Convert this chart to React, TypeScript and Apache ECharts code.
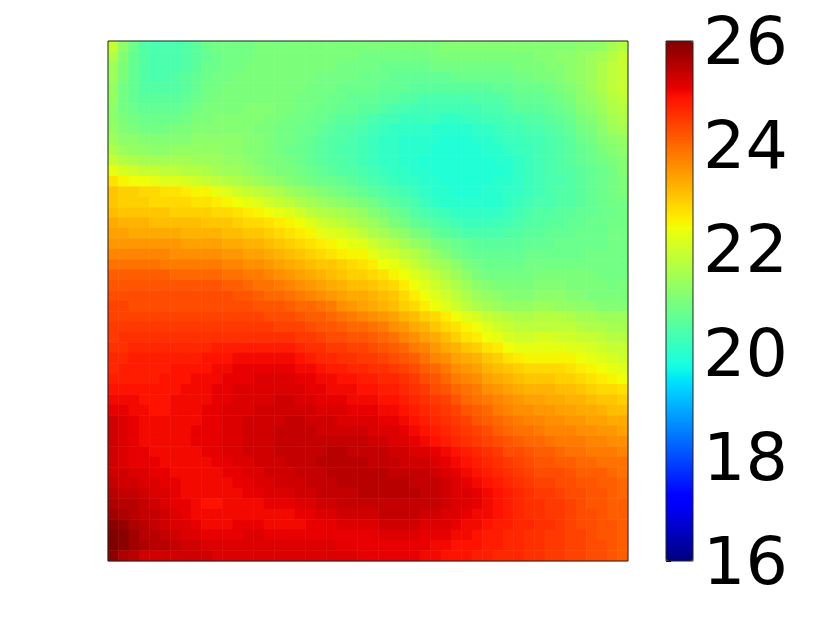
import React, { useEffect, useRef } from "react";
import * as echarts from "echarts";

// Values are in tenths of a colour-scale unit, rows top to bottom, columns left to right.
const cellRows: number[][] = [
[219,212,208,205,204,204,204,205,206,208,209,209,209,209,210,210,210,210,210,210,210,210,210,210,210,210,210,210,210,210,210,210,211,211,211,211,211,211,211,211,211,211,211,211,211,212,212,213,215,217],
[216,211,207,205,204,204,204,205,206,207,208,209,209,209,210,210,210,210,210,210,210,210,210,210,209,209,209,209,209,209,209,210,210,210,210,210,210,210,210,210,210,211,211,212,212,213,214,215,217,219],
[214,210,207,205,204,204,204,205,206,208,208,209,209,210,210,210,210,210,210,210,210,210,209,209,209,209,208,208,208,208,208,209,209,209,209,209,209,209,209,210,210,210,211,211,212,213,214,216,218,219],
[214,210,207,205,204,204,205,206,207,208,209,209,210,210,210,210,210,210,210,210,209,209,209,209,208,208,208,207,207,207,207,207,207,208,208,208,208,208,208,209,209,210,210,211,212,213,214,216,218,219],
[213,209,207,205,205,205,205,206,207,209,209,210,210,210,210,210,210,210,210,209,209,209,208,208,208,208,207,207,207,206,206,206,206,206,206,206,206,207,207,208,208,208,209,210,211,212,214,216,218,219],
[213,209,207,206,206,206,206,207,208,209,210,210,210,210,210,210,210,210,209,209,209,208,208,207,207,207,206,206,205,205,204,204,204,204,204,205,205,205,206,207,207,207,208,209,210,212,213,215,217,218],
[212,209,208,207,207,207,207,208,209,210,210,210,210,211,211,211,210,210,209,209,208,208,207,207,206,206,205,204,204,203,203,203,203,203,203,203,204,204,205,206,206,206,207,208,209,211,212,214,216,217],
[212,210,209,208,208,208,208,209,210,210,211,211,211,211,211,210,210,209,209,208,208,207,206,206,205,204,203,203,202,202,202,202,201,201,202,202,203,203,204,204,205,205,206,207,208,210,211,213,215,216],
[213,211,210,209,209,209,210,210,211,211,211,211,211,211,210,210,209,209,208,208,207,206,205,205,204,203,202,201,201,201,201,200,200,200,200,201,201,202,203,203,204,204,205,206,207,209,210,212,214,215],
[214,212,212,211,211,211,211,211,212,212,212,212,212,211,211,210,209,209,208,207,206,205,205,204,203,202,201,201,200,200,200,200,199,199,199,200,200,201,202,202,203,203,204,205,206,208,209,211,212,213],
[216,214,213,213,212,212,213,213,213,213,213,212,212,211,211,210,209,208,208,207,206,205,204,204,203,202,201,201,200,200,200,199,199,199,199,199,200,200,201,202,202,203,204,205,206,207,208,210,211,212],
[219,217,216,215,215,215,215,215,214,214,214,213,213,212,211,210,210,209,208,207,206,205,205,204,203,202,201,201,200,200,199,199,199,199,199,199,199,200,200,201,202,203,204,205,206,207,208,209,210,211],
[223,221,220,219,219,218,218,217,217,216,215,214,214,213,212,211,210,210,209,208,207,206,205,205,204,203,202,201,201,200,200,199,199,199,199,199,199,199,200,201,202,203,204,205,205,206,207,208,209,211],
[227,225,224,224,223,222,222,221,220,219,218,217,216,215,214,213,212,211,210,209,208,208,207,206,205,204,203,202,201,201,200,200,199,199,199,199,199,200,200,201,202,203,204,204,205,206,207,208,209,210],
[230,229,229,228,228,227,227,226,225,225,223,222,220,219,218,217,216,214,213,212,211,210,209,208,207,206,205,204,203,202,201,200,200,199,199,199,200,200,201,201,202,203,204,205,205,206,207,208,209,210],
[230,229,229,229,228,228,228,228,227,227,226,225,224,223,222,220,219,218,216,215,214,213,212,211,210,209,207,206,205,204,202,201,200,200,200,200,200,200,201,202,203,204,204,205,205,206,207,208,209,209],
[231,230,230,230,230,230,229,229,229,229,228,228,227,226,225,224,223,222,220,218,217,216,215,214,213,211,210,208,207,205,204,203,202,201,201,201,201,201,202,203,204,205,205,206,206,207,207,208,208,209],
[233,232,232,232,231,231,231,231,231,230,230,230,229,228,228,227,226,225,224,222,220,219,218,216,215,214,212,210,209,207,206,205,204,203,202,202,202,203,203,204,205,205,206,206,207,207,208,208,209,209],
[234,234,233,233,233,233,233,232,232,232,232,231,231,230,230,229,228,227,226,225,223,222,221,220,218,216,215,213,212,210,209,207,206,205,204,204,204,204,205,205,206,206,207,207,207,208,208,208,209,209],
[235,235,235,235,235,235,235,234,234,234,234,233,233,232,232,231,230,229,228,227,226,225,224,223,222,220,218,217,215,213,212,210,209,208,207,206,206,206,206,206,207,207,207,208,208,208,208,208,209,209],
[237,237,237,237,237,237,236,236,236,236,236,235,235,234,234,233,232,231,230,229,228,227,226,225,225,223,221,220,218,217,215,213,211,209,208,207,207,207,207,207,208,208,208,208,208,208,209,209,209,209],
[239,239,239,239,239,238,238,238,238,238,238,237,237,236,236,235,234,233,232,231,230,230,229,228,227,226,224,223,221,219,217,215,214,212,210,209,208,208,208,208,209,209,209,209,209,209,209,209,209,209],
[241,241,241,241,241,241,240,240,240,240,240,239,239,238,238,237,236,235,234,233,232,231,230,229,229,228,227,225,224,222,220,218,216,214,212,210,209,209,209,209,209,210,210,210,210,210,210,209,209,209],
[242,242,242,242,242,242,242,242,242,242,242,241,241,240,239,239,238,237,236,235,234,233,232,231,231,230,229,228,226,224,222,220,218,216,214,212,211,210,210,210,210,211,211,211,210,210,210,210,209,210],
[243,243,243,243,243,243,243,243,243,243,243,243,242,242,241,240,240,239,238,237,236,235,234,233,233,232,231,230,228,226,224,222,220,218,216,214,213,212,211,211,211,212,212,212,211,211,210,210,210,210],
[244,244,243,243,243,243,243,243,243,243,243,243,243,243,242,242,242,241,240,240,239,238,236,235,234,233,232,231,229,228,226,224,222,220,218,216,215,214,213,213,213,214,214,213,213,212,212,211,211,211],
[244,244,244,244,244,244,244,244,244,244,244,244,244,244,244,243,243,243,242,241,241,240,239,238,237,236,235,234,232,231,229,228,226,224,222,221,219,218,217,216,216,217,217,217,216,215,215,214,214,214],
[245,245,245,245,245,245,245,245,245,245,245,245,245,245,245,245,244,244,244,243,242,242,241,240,240,239,238,236,235,233,232,230,228,227,225,224,222,220,219,218,218,218,218,218,218,217,216,216,215,215],
[245,246,246,246,246,246,246,246,246,246,246,246,246,246,246,246,246,246,245,245,244,243,243,242,242,241,240,239,237,236,234,233,231,229,227,226,224,223,221,220,220,221,221,220,220,219,219,218,217,217],
[246,246,247,247,247,247,247,247,247,247,248,248,248,248,248,248,248,248,247,246,246,245,245,244,244,243,242,241,240,238,237,235,233,232,230,229,227,226,224,223,223,223,223,223,222,222,221,220,219,219],
[247,247,248,248,248,248,248,248,248,249,249,249,250,250,250,250,250,250,249,248,247,247,246,246,245,245,244,243,242,241,239,237,236,234,233,232,230,229,227,226,225,225,225,225,225,224,223,222,221,220],
[247,248,248,248,248,248,249,249,249,249,250,250,251,251,251,251,251,251,250,250,249,248,248,247,247,246,246,245,244,243,241,240,238,236,235,234,232,231,230,229,228,228,228,228,227,226,225,224,223,222],
[248,248,248,248,248,249,249,249,250,250,250,251,251,251,252,252,252,252,251,251,250,250,249,249,248,248,247,247,246,245,243,242,240,238,237,236,234,233,232,231,230,230,230,229,229,228,227,226,225,224],
[249,249,249,249,249,249,249,250,250,250,251,251,252,252,252,252,252,252,252,251,251,250,250,250,249,249,248,248,247,246,245,243,242,240,239,238,236,235,234,233,232,232,232,231,231,230,229,228,228,227],
[250,250,250,249,249,249,250,250,250,250,251,251,252,252,252,252,253,253,252,252,251,251,251,250,250,250,249,249,248,247,246,245,244,242,240,239,238,237,236,235,234,234,233,233,232,232,231,230,230,229],
[251,251,250,250,249,249,250,250,250,251,251,252,252,252,253,253,253,253,253,253,252,252,252,251,251,251,250,250,249,248,247,246,245,244,242,241,240,238,237,236,236,235,235,234,234,233,233,232,231,231],
[253,252,251,250,250,250,250,250,250,251,251,252,252,253,253,253,253,254,254,253,253,253,252,252,252,252,251,251,250,249,248,247,246,245,244,242,241,240,239,238,237,237,236,236,235,235,234,234,233,233],
[253,252,251,250,250,250,250,250,251,251,251,252,252,253,253,253,254,254,254,254,253,253,253,253,253,252,252,252,251,250,249,248,247,246,245,244,243,241,240,239,239,238,237,237,237,236,236,235,235,234],
[253,252,251,250,250,250,250,250,251,251,251,252,252,253,253,253,254,254,254,254,254,254,254,254,254,253,253,252,252,251,250,249,248,247,246,245,244,243,242,241,240,240,239,238,238,238,237,237,236,236],
[253,252,251,251,250,250,250,250,250,251,251,252,252,253,253,253,254,254,254,254,254,255,255,254,254,254,254,253,253,252,252,251,250,249,248,247,246,245,243,243,242,241,241,240,239,239,238,238,238,237],
[253,252,251,251,251,250,250,250,250,250,251,251,252,252,253,253,253,254,254,254,255,255,255,255,255,254,254,254,253,253,253,252,251,250,249,248,247,246,245,244,243,242,242,241,241,240,240,239,239,239],
[253,253,252,252,251,251,250,250,250,250,250,251,251,252,252,253,253,253,254,254,254,255,255,255,255,255,255,254,254,254,254,253,252,251,250,249,248,247,246,245,244,243,243,243,242,241,241,241,240,239],
[254,253,253,252,252,251,251,250,250,250,250,250,251,251,252,252,253,253,253,254,254,254,255,255,255,255,255,255,255,254,254,254,253,252,251,250,249,248,247,246,245,244,244,243,243,242,242,241,241,240],
[255,254,254,253,252,252,251,250,250,250,250,250,250,251,251,252,252,252,253,253,254,254,254,254,255,255,255,255,255,255,254,254,253,252,252,251,250,249,248,247,246,245,245,244,243,243,242,242,241,240],
[256,255,255,254,253,252,251,251,250,249,249,250,250,250,250,251,251,251,252,252,253,253,254,254,254,254,254,254,254,254,254,254,253,252,252,251,250,249,248,247,246,246,245,245,244,243,242,242,241,241],
[257,256,255,254,254,253,252,251,250,250,250,250,250,250,250,250,250,250,251,251,252,252,253,253,253,253,254,254,254,254,253,253,252,252,251,250,250,249,248,247,246,246,245,245,244,243,243,242,241,241],
[259,258,256,255,254,253,252,252,251,250,250,250,251,251,251,250,250,250,250,251,251,251,252,252,252,252,253,253,253,253,252,252,252,251,250,250,249,248,248,247,247,246,246,245,244,243,243,242,242,241],
[260,259,257,255,255,254,253,252,252,251,251,251,251,252,252,251,251,251,251,251,251,251,251,251,251,251,252,252,252,252,251,251,251,250,250,249,248,248,247,247,246,246,245,245,244,244,243,242,242,241],
[260,259,257,256,255,255,254,253,253,252,252,252,252,252,252,252,252,252,252,252,252,252,251,251,251,251,251,251,251,251,251,250,250,249,249,249,248,248,247,247,246,246,245,245,244,244,243,243,242,241],
[259,256,255,253,253,253,253,253,253,253,252,252,252,252,252,252,252,252,252,252,252,252,252,252,251,251,251,251,251,251,250,250,249,249,249,248,248,247,247,247,246,246,245,245,244,244,243,243,242,241],
];

const scaleMin = 16;
const scaleMax = 26;
const scaleStep = 2;

const rowLabels = cellRows.map((_, i) => String(i));
const colLabels = cellRows[0].map((_, i) => String(i));

function seg(t: number, pts: [number, number][]) {
  for (let i = 1; i < pts.length; i++) {
    if (t <= pts[i][0]) {
      const [a, va] = pts[i - 1];
      const [b, vb] = pts[i];
      return va + ((vb - va) * (t - a)) / (b - a);
    }
  }
  return pts[pts.length - 1][1];
}
const jet: string[] = [];
for (let i = 0; i <= 200; i++) {
  const t = i / 200;
  const r = seg(t, [[0, 0], [0.35, 0], [0.66, 1], [0.89, 1], [1, 0.5]]);
  const g = seg(t, [[0, 0], [0.125, 0], [0.375, 1], [0.64, 1], [0.91, 0], [1, 0]]);
  const b = seg(t, [[0, 0.5], [0.11, 1], [0.34, 1], [0.65, 0], [1, 0]]);
  jet.push(`rgb(${Math.round(r * 255)},${Math.round(g * 255)},${Math.round(b * 255)})`);
}

export default function App() {
  const ref = useRef<HTMLDivElement>(null);
  useEffect(() => {
    document.body.style.margin = "0";
    const chart = echarts.init(ref.current!, undefined, { renderer: "svg" });
    const cells: [number, number, number][] = [];
    cellRows.forEach((row, y) => row.forEach((v, x) => cells.push([x, y, v / 10])));
    chart.setOption({
      animation: false,
      backgroundColor: "#fff",
      tooltip: { show: false },
      grid: [
        { left: 108, top: 41, width: 520, height: 520 },
        { left: 666, top: 41, width: 27, height: 520 },
      ],
      xAxis: [
        { type: "category", gridIndex: 0, data: colLabels, show: false },
        { type: "value", gridIndex: 1, show: false, min: 0, max: 1 },
      ],
      yAxis: [
        { type: "category", gridIndex: 0, data: rowLabels, inverse: true, show: false },
        {
          type: "value",
          gridIndex: 1,
          position: "right",
          min: scaleMin,
          max: scaleMax,
          interval: scaleStep,
          splitLine: { show: false },
          axisLine: { show: false },
          axisTick: { show: true, length: 5, lineStyle: { color: "#000", width: 1 } },
          axisLabel: {
            show: true,
            color: "#000",
            fontSize: 66.67,
            fontFamily: "DejaVu Sans",
            margin: 10,
          },
        },
      ],
      visualMap: {
        type: "continuous",
        seriesIndex: 0,
        min: scaleMin,
        max: scaleMax,
        left: 666,
        top: 41,
        itemWidth: 27,
        itemHeight: 520,
        padding: 0,
        calculable: false,
        hoverLink: false,
        realtime: false,
        showLabel: false,
        inRange: { color: jet },
      },
      series: [
        {
          type: "heatmap",
          xAxisIndex: 0,
          yAxisIndex: 0,
          data: cells,
          progressive: 0,
          silent: true,
          emphasis: { disabled: true },
        },
      ],
      graphic: [
        {
          type: "rect",
          silent: true,
          z: 100,
          shape: { x: 108, y: 41, width: 520, height: 520 },
          style: { fill: "none", stroke: "#222", lineWidth: 1 },
        },
        {
          type: "rect",
          silent: true,
          z: 100,
          shape: { x: 666, y: 41, width: 27, height: 520 },
          style: { fill: "none", stroke: "#222", lineWidth: 1 },
        },
      ],
    });
    return () => chart.dispose();
  }, []);
  return <div ref={ref} style={{ width: 822, height: 617 }} />;
}
